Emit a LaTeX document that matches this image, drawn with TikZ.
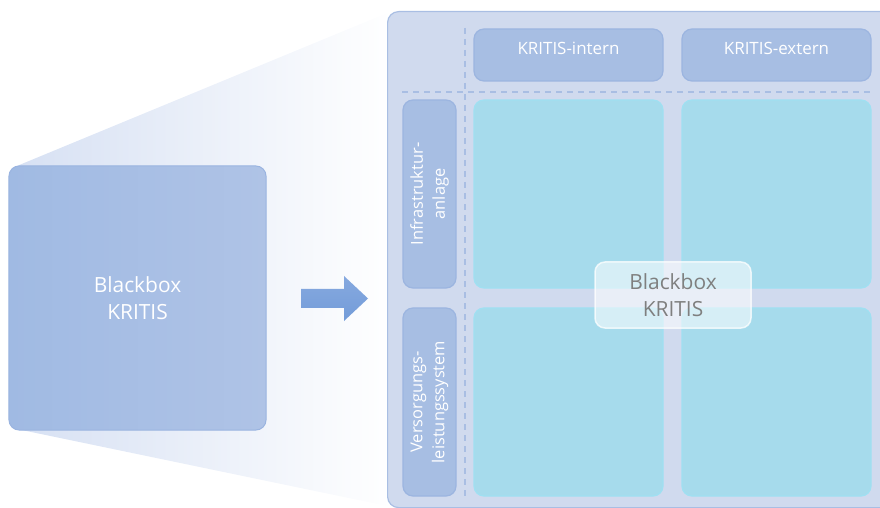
\documentclass[tikz,border=0pt]{standalone}
\usepackage{fontspec}
\setmainfont{Open Sans}
\definecolor{panelfill}{HTML}{D0DAEE}
\definecolor{paneldraw}{HTML}{A9BEE3}
\definecolor{hdrfill}{HTML}{A7BEE3}
\definecolor{hdrdraw}{HTML}{9CB5E0}
\definecolor{cellfill}{HTML}{A6DBEC}
\definecolor{celldraw}{HTML}{9FE0F2}
\definecolor{funnel}{HTML}{D6E0F3}
\definecolor{boxleft}{HTML}{A0BAE3}
\definecolor{boxright}{HTML}{AFC3E6}
\definecolor{boxdraw}{HTML}{9AB4E0}
\definecolor{arrowtop}{HTML}{86A9DF}
\definecolor{arrowbot}{HTML}{739CD9}
\definecolor{graytext}{HTML}{7F7F7F}
\tikzset{
  header/.style={draw=hdrdraw, line width=1.2bp, fill=hdrfill, rounded corners=10bp,
    minimum width=189bp, minimum height=52bp, inner sep=0pt, text=white,
    text height=10bp, text depth=10bp,
    font=\fontsize{17}{20}\selectfont},
  rowlabel/.style={draw=hdrdraw, line width=1.2bp, fill=hdrfill, rounded corners=10bp,
    minimum width=188bp, minimum height=53bp, inner sep=0pt, text=white, rotate=90,
    align=center, font=\fontsize{16.5}{22}\selectfont},
  cell/.style={draw=celldraw, line width=1.2bp, fill=cellfill, rounded corners=10bp,
    minimum width=189bp, minimum height=188bp, inner sep=0pt},
  divider/.style={paneldraw, line width=1.2bp, dash pattern=on 6bp off 5bp},
  bigtext/.style={font=\fontsize{21}{27}\selectfont, align=center},
}
\begin{document}
\begin{tikzpicture}[x=1bp, y=-1bp]
\useasboundingbox (0,0) rectangle (880,508);
\clip (0,0) rectangle (880,508);

% widening funnel from the small box to the detail panel
\shade[left color=funnel, right color=white] (12,168) -- (392,11) -- (392,507) -- (12,428) -- cycle;

% small black box on the left
\node[draw=boxdraw, line width=1bp, rounded corners=10bp,
  left color=boxleft, right color=boxright,
  minimum width=257bp, minimum height=264bp, inner sep=0pt, text=white, bigtext] (bb) at (137.5,298) {Blackbox\\KRITIS};

% arrow towards the detail panel
\shade[top color=arrowtop, bottom color=arrowbot]
  (301,289) -- (344,289) -- (344,276) -- (368,298.5) -- (344,321) -- (344,308) -- (301,308) -- cycle;

% detail panel
\node[draw=paneldraw, line width=1.2bp, fill=panelfill, rounded corners=11bp,
  minimum width=540bp, minimum height=496bp, inner sep=0pt, anchor=north west] (panel) at (387,11) {};

% dashed dividers
\coordinate (vtop) at (465,28);
\coordinate (vbot) at (465,498);
\coordinate (hleft) at (402,92);
\coordinate (hright) at (872,92);
\draw[divider] (vtop) -- (vbot);
\draw[divider] (hleft) -- (hright);

% column headers
\node[header] (intern) at (568.5,55) {KRITIS-intern};
\node[header] (extern) at (776.5,55) {KRITIS-extern};

% row labels
\node[rowlabel] (infra) at (429.5,194) {Infrastruktur-\\anlage};
\node[rowlabel] (vers) at (429.5,402) {Versorgungs-\\leistungssystem};

% matrix cells
\node[cell] (c11) at (568.5,194) {};
\node[cell] (c12) at (776.5,194) {};
\node[cell] (c21) at (568.5,402) {};
\node[cell] (c22) at (776.5,402) {};

% translucent label over the matrix centre
\node[draw=white, draw opacity=0.75, line width=1.5bp, fill=white, fill opacity=0.55,
  text opacity=1, rounded corners=10bp, minimum width=156bp, minimum height=66bp,
  inner sep=0pt, text=graytext, bigtext] (centre) at (673,295) {Blackbox\\KRITIS};
\end{tikzpicture}
\end{document}
